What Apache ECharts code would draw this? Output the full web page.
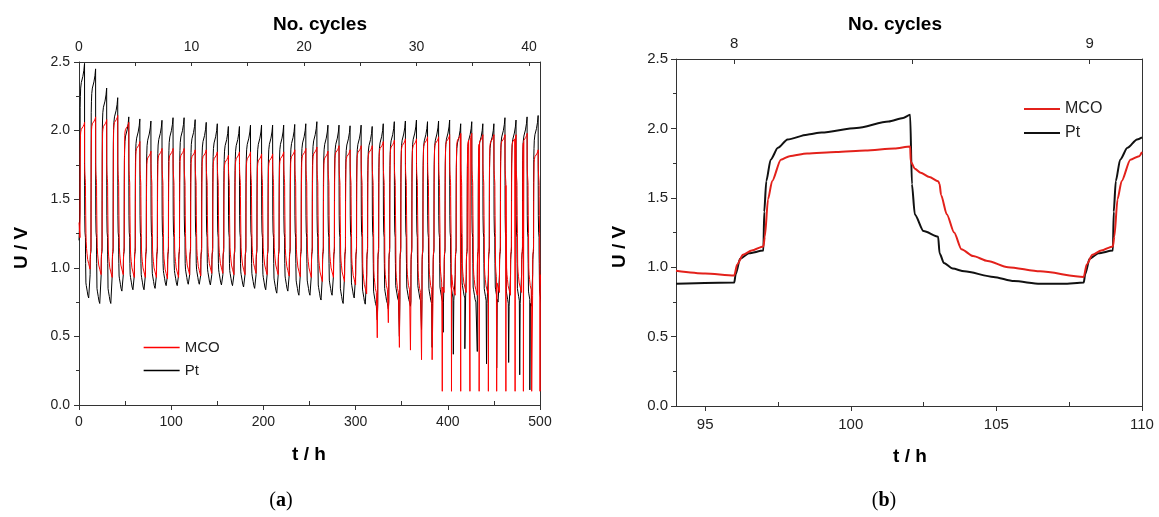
<!DOCTYPE html>
<html>
<head>
<meta charset="utf-8">
<script src="https://cdn.jsdelivr.net/npm/echarts@6/dist/echarts.min.js"></script>
<style>
  html, body { margin: 0; padding: 0; background: #fff; }
  #chart { width: 1159px; height: 517px; }
</style>
</head>
<body>
<div id="chart"></div>
<script>
// ---------- (a) long-term cycling, 0–500 h ----------
const CYCLE_H = 12;            // one charge/discharge cycle, hours
const T_END = 500;
const HOURS_PER_CYCLE_AXIS = 12.2;

// values read per cycle (cycle k starts at k*12 h)
const ptPeak = [2.49, 2.45, 2.31, 2.24, 2.10, 2.085, 2.07, 2.075, 2.094, 2.094,
                2.08, 2.06, 2.05, 2.03, 2.03, 2.04, 2.04, 2.04, 2.04, 2.045,
                2.05, 2.065, 2.04, 2.04, 2.035, 2.04, 2.03, 2.05, 2.065, 2.07,
                2.077, 2.065, 2.07, 2.077, 2.05, 2.065, 2.05, 2.05, 2.094, 2.077,
                2.10, 2.11];
const ptLow = [0.78, 0.74, 0.74, 0.83, 0.84, 0.84, 0.85, 0.87, 0.87, 0.88,
               0.88, 0.875, 0.875, 0.87, 0.86, 0.85, 0.84, 0.815, 0.83, 0.80,
               0.80, 0.765, 0.80, 0.74, 0.78, 0.735, 0.72, 0.74, 0.76, 0.75,
               0.76, 0.74, 0.75, 0.76, 0.78, 0.75, 0.74, 0.75, 0.72, 0.74,
               0.72, 0.72];
const mcoPeak = [2.06, 2.10, 2.08, 2.11, 2.06, 1.92, 1.85, 1.87, 1.87, 1.87,
                 1.86, 1.86, 1.845, 1.82, 1.845, 1.845, 1.83, 1.83, 1.845, 1.86,
                 1.87, 1.88, 1.85, 1.89, 1.86, 1.89, 1.89, 1.92, 1.93, 1.94,
                 1.94, 1.955, 1.955, 1.97, 1.98, 1.98, 1.97, 1.97, 1.97, 1.97,
                 1.98, 1.86];
const mcoLow = [0.99, 0.95, 0.93, 0.95, 0.93, 0.93, 0.93, 0.92, 0.93, 0.95,
                0.94, 0.96, 0.96, 0.95, 0.95, 0.96, 0.95, 0.95, 0.94, 0.935,
                0.93, 0.90, 0.93, 0.90, 0.875, 0.81, 0.78, 0.80, 0.78, 0.80,
                0.78, 0.80, 0.82, 0.80, 0.82, 0.80, 0.80, 0.82, 0.80, 0.82,
                0.80, 0.80];
const ptStart = 1.20;
const mcoStart = 1.33;

// deep discharge dips in the late cycles
const ptSpikeT = [323.5, 335.5, 347.5, 359.5, 371.5, 383, 395, 406, 418.5, 432, 442, 453, 466, 478, 489];
const ptSpikeU = [0.62, 0.70, 0.50, 0.72, 0.55, 0.42, 0.53, 0.37, 0.41, 0.39, 0.30, 0.27, 0.31, 0.22, 0.11];
const mcoSpikeT = [323.5, 335.5, 347.5, 359.5, 371.5, 383, 394, 404, 414, 424, 434, 444, 453, 463, 473, 482, 491, 500];
const mcoSpikeU = [0.49, 0.60, 0.42, 0.40, 0.33, 0.33, 0.10, 0.10, 0.10, 0.10, 0.10, 0.10, 0.10, 0.10, 0.10, 0.10, 0.10, 0.10];

// shape of one cycle (hours into the cycle); 'F' = absolute volts,
// 'P' = relative to that cycle's peak, 'L' = relative to that cycle's low
const ptTau = [0.05, 0.2, 0.5, 1.0, 1.03, 1.1, 1.25, 1.5, 1.83, 2.5, 4.2, 5.3, 6.0,
               6.1, 6.2, 6.5, 7.0, 7.05, 7.2, 7.5, 7.9, 8.9, 9.6, 10.5, 11.3, 12.0];
const ptRef = ['F', 'F', 'F', 'F', 'F', 'F', 'P', 'P', 'P', 'P', 'P', 'P', 'P',
               'F', 'F', 'F', 'F', 'F', 'F', 'L', 'L', 'L', 'L', 'L', 'L', 'L'];
const ptOff = [0.95, 1.06, 1.10, 1.12, 1.40, 1.62, -0.32, -0.24, -0.18, -0.14, -0.095, -0.05, 0,
               1.60, 1.38, 1.26, 1.22, 1.10, 1.03, 0.11, 0.09, 0.05, 0.02, 0, 0, 0.01];

const mcoTau = [0.1, 0.3, 0.6, 1.0, 1.05, 1.16, 1.3, 1.6, 1.9, 2.5, 3.5, 4.5, 5.5, 6.04,
                6.06, 6.2, 6.4, 6.7, 7.0, 7.05, 7.1, 7.3, 7.55, 7.8, 8.2, 8.7, 9.4, 10.5, 12.0];
const mcoRef = ['F', 'F', 'F', 'F', 'F', 'F', 'P', 'P', 'P', 'P', 'P', 'P', 'P', 'P',
                'F', 'F', 'F', 'F', 'F', 'F', 'F', 'F', 'F', 'L', 'L', 'L', 'L', 'L', 'L'];
const mcoOff = [1.02, 1.09, 1.12, 1.15, 1.22, 1.49, -0.25, -0.095, -0.07, -0.05, -0.04, -0.03, -0.015, 0,
                1.76, 1.71, 1.68, 1.65, 1.62, 1.60, 1.52, 1.38, 1.25, 0.20, 0.15, 0.115, 0.07, 0.04, 0];

// ---------- (b) detail of cycles 8–9, 94–110 h ----------
const bPtT = [94, 96, 96.05, 96.2, 96.5, 97, 97.03, 97.1, 97.25, 97.5,
              97.83, 98.5, 99, 100.2, 101.3, 101.8, 102.04, 102.1, 102.2, 102.5,
              103, 103.05, 103.2, 103.5, 103.9, 104.9, 105.6, 106.5, 107.3, 108,
              108.05, 108.2, 108.5, 109, 109.03, 109.1, 109.25, 109.5, 109.83, 110];
const bPtU = [0.88, 0.89, 0.95, 1.06, 1.10, 1.12, 1.40, 1.62, 1.775, 1.86,
              1.92, 1.955, 1.97, 2.003, 2.05, 2.075, 2.098, 1.60, 1.38, 1.26,
              1.22, 1.10, 1.03, 0.99, 0.97, 0.93, 0.90, 0.88, 0.88, 0.89,
              0.95, 1.06, 1.10, 1.12, 1.40, 1.62, 1.775, 1.86, 1.92, 1.935];
const bMcoT = [94, 95, 96, 96.1, 96.3, 96.6, 97, 97.05, 97.16, 97.3,
               97.6, 97.9, 98.5, 99.5, 100.5, 101.5, 102.04, 102.06, 102.2, 102.4,
               102.7, 103, 103.05, 103.1, 103.3, 103.55, 103.8, 104.2, 104.7, 105.4,
               106.5, 108, 108.1, 108.3, 108.6, 109, 109.05, 109.16, 109.3, 109.6,
               109.9, 110];
const bMcoU = [0.975, 0.955, 0.94, 1.02, 1.09, 1.12, 1.15, 1.22, 1.49, 1.62,
               1.775, 1.80, 1.82, 1.83, 1.84, 1.855, 1.87, 1.76, 1.71, 1.68,
               1.65, 1.62, 1.60, 1.52, 1.38, 1.25, 1.13, 1.08, 1.045, 1.00,
               0.97, 0.93, 1.02, 1.09, 1.12, 1.15, 1.22, 1.49, 1.62, 1.775,
               1.80, 1.83];

const tLabelsB = [95, 100, 105, 110];
const tMinorB = [97.5, 102.5, 107.5];
const cycleLabelsB = [8, 9];
const cycleTicksB = [8, 8.5, 9];
const cycleTicksA = [0, 5, 10, 15, 20, 25, 30, 35, 40];
const cycleLabelsA = [0, 10, 20, 30, 40];

function buildCycles(start, tau, ref, off, peaks, lows, spikeT, spikeU) {
  const pts = [[0, start]];
  peaks.forEach((peak, k) => {
    tau.forEach((tk, i) => {
      if (k === 0 && tk <= 1.0) return;
      const base = ref[i] === 'P' ? peak : (ref[i] === 'L' ? lows[k] : 0);
      pts.push([k * CYCLE_H + tk, +(base + off[i]).toFixed(3)]);
    });
  });
  spikeT.forEach((t, i) => pts.push([t, spikeU[i]]));
  pts.sort((a, b) => a[0] - b[0]);
  return pts;
}
const zip = (xs, ys) => xs.map((x, i) => [x, ys[i]]);

const ptA = buildCycles(ptStart, ptTau, ptRef, ptOff, ptPeak, ptLow, ptSpikeT, ptSpikeU);
const mcoA = buildCycles(mcoStart, mcoTau, mcoRef, mcoOff, mcoPeak, mcoLow, mcoSpikeT, mcoSpikeU);
const ptB = zip(bPtT, bPtU);
const mcoB = zip(bMcoT, bMcoU);

// ---------- styling ----------
const FONT = '"Liberation Sans", Arial, sans-serif';
const SERIF = '"Liberation Serif", "DejaVu Serif", serif';
const AX = '#333';
const TXT = '#222';
const RED_A = '#ff0000', BLACK_A = '#000';
const RED_B = '#e3211b', BLACK_B = '#111';
const line = { show: true, onZero: false, lineStyle: { color: AX, width: 1 } };
const noSplit = { show: false };
// legend keys are plain line segments: hide the marker drawn on top of them
const noMarker = { opacity: 0, borderWidth: 0 };

function frameAxis(gridIndex, position, min, max) {
  return {
    type: 'value', gridIndex, position, min, max,
    axisLine: line, axisTick: { show: false }, axisLabel: { show: false }, splitLine: noSplit
  };
}

const chart = echarts.init(document.getElementById('chart'), null, { renderer: 'canvas' });

chart.setOption({
  animation: false,
  backgroundColor: '#fff',
  grid: [
    { left: 79, top: 62, width: 461, height: 343 },
    { left: 676, top: 59, width: 466, height: 347 }
  ],
  xAxis: [
    // (a) time, bottom
    {
      type: 'value', gridIndex: 0, position: 'bottom', min: 0, max: T_END, interval: 100,
      axisLine: line,
      axisTick: { show: true, inside: false, length: 5, lineStyle: { color: AX } },
      axisLabel: { fontSize: 14, color: TXT, fontFamily: FONT, margin: 10 },
      splitLine: noSplit
    },
    // (a) minor ticks pointing inward
    {
      type: 'value', gridIndex: 0, position: 'bottom', min: 0, max: T_END, interval: 100,
      axisLine: { show: false },
      axisTick: { show: false, inside: true },
      minorTick: { show: true, splitNumber: 2, length: 4, lineStyle: { color: AX } },
      axisLabel: { show: false }, splitLine: noSplit, minorSplitLine: { show: false }
    },
    // (a) cycle number, top
    {
      type: 'value', gridIndex: 0, position: 'top', min: 0, max: T_END / HOURS_PER_CYCLE_AXIS,
      axisLine: line,
      axisTick: { show: true, inside: true, length: 4, customValues: cycleTicksA, lineStyle: { color: AX } },
      axisLabel: { fontSize: 14, color: TXT, fontFamily: FONT, margin: 8, customValues: cycleLabelsA },
      splitLine: noSplit
    },
    // (b) time, bottom
    {
      type: 'value', gridIndex: 1, position: 'bottom', min: 94, max: 110,
      axisLine: line,
      axisTick: { show: true, inside: false, length: 5, customValues: tLabelsB, lineStyle: { color: AX } },
      axisLabel: { fontSize: 15, color: TXT, fontFamily: FONT, margin: 11, customValues: tLabelsB },
      splitLine: noSplit
    },
    // (b) minor ticks pointing inward
    {
      type: 'value', gridIndex: 1, position: 'bottom', min: 94, max: 110,
      axisLine: { show: false },
      axisTick: { show: true, inside: true, length: 4, customValues: tMinorB, lineStyle: { color: AX } },
      axisLabel: { show: false }, splitLine: noSplit
    },
    // (b) cycle number, top
    {
      type: 'value', gridIndex: 1, position: 'top',
      min: 8 - 2 / HOURS_PER_CYCLE_AXIS, max: 8 + 14 / HOURS_PER_CYCLE_AXIS,
      axisLine: line,
      axisTick: { show: true, inside: true, length: 5, customValues: cycleTicksB, lineStyle: { color: AX } },
      axisLabel: { fontSize: 15, color: TXT, fontFamily: FONT, margin: 8, customValues: cycleLabelsB },
      splitLine: noSplit
    }
  ],
  yAxis: [
    {
      type: 'value', gridIndex: 0, position: 'left', min: 0, max: 2.5, interval: 0.5,
      axisLine: line,
      axisTick: { show: true, inside: false, length: 5, lineStyle: { color: AX } },
      minorTick: { show: true, splitNumber: 2, length: 3, lineStyle: { color: AX } },
      axisLabel: { fontSize: 14, color: TXT, fontFamily: FONT, margin: 9, formatter: v => v.toFixed(1) },
      splitLine: noSplit, minorSplitLine: { show: false }
    },
    frameAxis(0, 'right', 0, 2.5),
    {
      type: 'value', gridIndex: 1, position: 'left', min: 0, max: 2.5, interval: 0.5,
      axisLine: line,
      axisTick: { show: true, inside: false, length: 5, lineStyle: { color: AX } },
      minorTick: { show: true, splitNumber: 2, length: 3, lineStyle: { color: AX } },
      axisLabel: { fontSize: 15, color: TXT, fontFamily: FONT, margin: 8, formatter: v => v.toFixed(1) },
      splitLine: noSplit, minorSplitLine: { show: false }
    },
    frameAxis(1, 'right', 0, 2.5)
  ],
  legend: [
    {
      data: [
        { name: 'MCO', lineStyle: { color: RED_A, width: 1.3 } },
        { name: 'Pt', lineStyle: { color: BLACK_A, width: 1.3 } }
      ],
      orient: 'vertical', left: 143, top: 340, padding: 0,
      itemWidth: 36, itemHeight: 13, itemGap: 8, selectedMode: false,
      itemStyle: noMarker,
      textStyle: { fontSize: 15, color: TXT, fontFamily: FONT }
    },
    {
      data: [
        { name: 'MCO', lineStyle: { color: RED_B, width: 2 } },
        { name: 'Pt', lineStyle: { color: BLACK_B, width: 2 } }
      ],
      orient: 'vertical', left: 1023, top: 101, padding: 0,
      itemWidth: 36, itemHeight: 14, itemGap: 8, selectedMode: false,
      itemStyle: noMarker,
      textStyle: { fontSize: 16, color: TXT, fontFamily: FONT }
    }
  ],
  series: [
    {
      name: 'Pt', type: 'line', xAxisIndex: 0, yAxisIndex: 0, data: ptA,
      symbol: 'none', clip: true, z: 2,
      lineStyle: { color: BLACK_A, width: 1 }, itemStyle: { color: BLACK_A }
    },
    {
      name: 'MCO', type: 'line', xAxisIndex: 0, yAxisIndex: 0, data: mcoA,
      symbol: 'none', clip: true, z: 3,
      lineStyle: { color: RED_A, width: 1 }, itemStyle: { color: RED_A }
    },
    {
      name: 'Pt', type: 'line', xAxisIndex: 3, yAxisIndex: 2, data: ptB,
      symbol: 'none', clip: true, z: 2, smooth: 0.25, smoothMonotone: 'x',
      lineStyle: { color: BLACK_B, width: 2 }, itemStyle: { color: BLACK_B }
    },
    {
      name: 'MCO', type: 'line', xAxisIndex: 3, yAxisIndex: 2, data: mcoB,
      symbol: 'none', clip: true, z: 3, smooth: 0.25, smoothMonotone: 'x',
      lineStyle: { color: RED_B, width: 2 }, itemStyle: { color: RED_B }
    }
  ],
  graphic: [
    { type: 'text', x: 320, y: 25, style: { text: 'No. cycles', font: 'bold 19px ' + FONT, fill: '#000', align: 'center', verticalAlign: 'middle' } },
    { type: 'text', x: 309, y: 455, style: { text: 't / h', font: 'bold 19px ' + FONT, fill: '#000', align: 'center', verticalAlign: 'middle' } },
    { type: 'text', x: 22, y: 248, rotation: Math.PI / 2, style: { text: 'U / V', font: 'bold 19px ' + FONT, fill: '#000', align: 'center', verticalAlign: 'middle' } },
    { type: 'text', x: 895, y: 25, style: { text: 'No. cycles', font: 'bold 19px ' + FONT, fill: '#000', align: 'center', verticalAlign: 'middle' } },
    { type: 'text', x: 910, y: 457, style: { text: 't / h', font: 'bold 19px ' + FONT, fill: '#000', align: 'center', verticalAlign: 'middle' } },
    { type: 'text', x: 620, y: 247, rotation: Math.PI / 2, style: { text: 'U / V', font: 'bold 19px ' + FONT, fill: '#000', align: 'center', verticalAlign: 'middle' } },
    {
      type: 'text', x: 281, y: 501,
      style: {
        text: '{p|(}{b|a}{p|)}', align: 'center', verticalAlign: 'middle',
        rich: { p: { font: '20px ' + SERIF, fill: '#000' }, b: { font: 'bold 20px ' + SERIF, fill: '#000' } }
      }
    },
    {
      type: 'text', x: 884, y: 501,
      style: {
        text: '{p|(}{b|b}{p|)}', align: 'center', verticalAlign: 'middle',
        rich: { p: { font: '20px ' + SERIF, fill: '#000' }, b: { font: 'bold 20px ' + SERIF, fill: '#000' } }
      }
    }
  ]
});
</script>
</body>
</html>
